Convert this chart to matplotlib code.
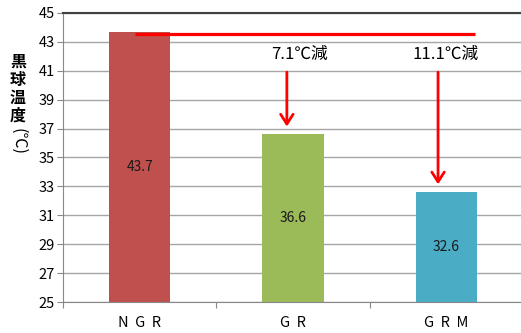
import matplotlib.pyplot as plt

plt.rcParams['font.family'] = ['Noto Sans CJK JP', 'DejaVu Sans']

# data
categories = ['N  G  R', 'G  R', 'G  R  M']
values = [43.7, 36.6, 32.6]
colors = ['#C0504D', '#9BBB59', '#4BACC6']
yticks = list(range(25, 46, 2))
diffs = ['7.1℃減', '11.1℃減']

fig = plt.figure(figsize=(5.21, 3.33), dpi=100)
ax = fig.add_axes([63 / 521, 31 / 333, 460 / 521, 289 / 333])

x = range(len(categories))
bars = ax.bar(x, [v - 25 for v in values], bottom=25, width=0.4, color=colors, zorder=2)
for xi, v in zip(x, values):
    ax.text(xi, (25 + v) / 2, f'{v}', ha='center', va='center', fontsize=10,
            color='#1a1a1a', zorder=3)

ax.set_xlim(-0.5, 2.5)
ax.set_ylim(25, 45)
ax.set_yticks(yticks)
ax.set_yticklabels([str(t) for t in yticks], fontsize=10.5)
ax.set_xticks([-0.5, 0.5, 1.5, 2.5])
ax.set_xticklabels([])
ax.set_xticks(list(x), minor=True)
ax.set_xticklabels(categories, minor=True, fontsize=10.5)
ax.tick_params(axis='x', which='minor', length=0, pad=10)
ax.tick_params(axis='x', which='major', length=4, color='#888888', direction='out')
ax.tick_params(axis='y', length=4, color='#888888', direction='out', pad=2)
ax.grid(axis='y', color='#a6a6a6', linewidth=1, zorder=0)

ax.spines['right'].set_visible(False)
ax.spines['top'].set_color('#404040')
ax.spines['top'].set_linewidth(1.5)
ax.spines['left'].set_color('#888888')
ax.spines['bottom'].set_color('#888888')

# reference line from NGR top
ax.plot([-0.03, 2.19], [43.55, 43.55], color='#ff0000', linewidth=2.3, zorder=4,
        solid_capstyle='butt')

# arrows
for ax_x, v, lbl, tx in zip([0.96, 1.946], values[1:], diffs, [1.04, 1.995]):
    ax.annotate('', xy=(ax_x, v + 0.35), xytext=(ax_x, 41.1),
                arrowprops=dict(arrowstyle='->,head_length=0.7,head_width=0.45',
                                color='#ff0000', lw=2), zorder=4)
    ax.text(tx, 42.1, lbl, ha='center', va='center', fontsize=12)

# vertical y label
for i, ch in enumerate('黒球温度'):
    fig.text(18 / 521, 1 - (62 + i * 18) / 333, ch, ha='center', va='center',
             fontsize=11.5, fontweight='bold')
fig.text(18 / 521, 1 - 141 / 333, '(℃)', ha='center', va='center', fontsize=11.5,
         rotation=-90)

fig.savefig('out.png', dpi=100)
